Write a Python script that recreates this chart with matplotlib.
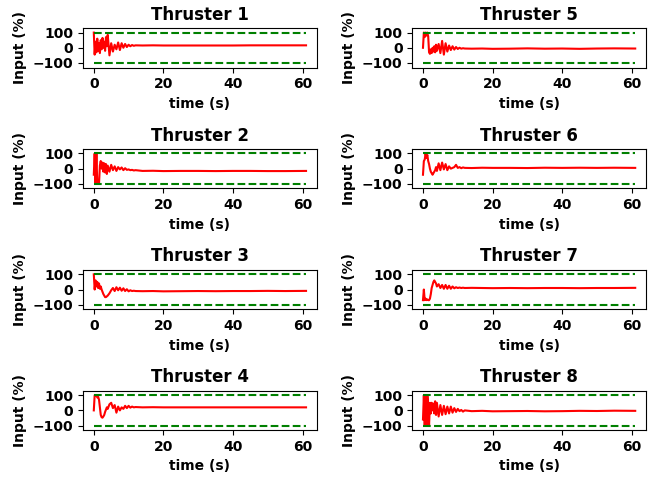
import matplotlib
matplotlib.use("Agg")
import matplotlib.pyplot as plt
import numpy as np

# sample times (s), dense where the thrusters are still oscillating
time = [0, 0.25, 0.5, 0.75, 1, 1.25, 1.5, 1.75, 2, 2.25, 2.5, 2.75, 3, 3.25, 3.5, 3.75, 4,
        4.5, 5, 5.5, 6, 6.5, 7, 7.5, 8, 8.5, 9, 9.5, 10, 10.5, 11, 11.5, 12,
        14, 17, 20, 25, 30, 35, 40, 45, 50, 55, 61]

thruster1 = [100, -45, 40, -30, 60, -20, 30, -35, 50, -10, 65, 0, 40, -20, 70, 10, 85,
             -50, 30, -25, 20, -10, 35, -15, 30, 0, 25, 5, 20, 10, 18, 13, 16,
             15, 16, 15, 15, 15, 15, 15, 16, 16, 16, 16]
thruster2 = [-40, 100, -100, 100, -100, -100, -100, 20, 50, 0, 40, -20, 35, -25, 30, -35, 20,
             -20, 25, -10, 15, -15, 10, -5, 8, -10, 3, -8, -5, -10, -8, -12, -10,
             -15, -14, -16, -15, -15, -16, -15, -15, -16, -16, -15]
thruster3 = [100, 0, 60, 20, 50, 10, 40, 5, 20, 0, -15, -30, -40, -50, -50, -45, -40,
             -25, -5, 10, -10, 15, -5, 12, -8, 8, -10, 2, -12, -5, -10, -8, -10,
             -11, -10, -12, -11, -10, -11, -10, -10, -9, -10, -9]
thruster4 = [0, 100, 95, 100, 85, 90, 70, 20, -30, -45, -48, -40, -30, -10, 5, 20, 10,
             40, 50, 15, 35, -15, 25, 0, 20, 10, 30, 15, 30, 18, 25, 20, 22,
             20, 21, 20, 20, 20, 20, 20, 20, 20, 20, 20]
thruster5 = [0, 100, 70, 100, 80, 100, 75, -30, -40, -10, -35, 0, -25, 10, -30, 20, -20,
             25, -35, 45, -45, 30, -25, 15, -15, 10, -12, 5, -8, 0, -6, -3, -5,
             -6, -5, -7, -6, -4, -6, -5, -7, -5, -4, -5]
thruster6 = [-40, 50, 60, 100, 70, 90, 50, 30, 0, -20, -30, -40, -30, -20, -10, 10, -15,
             35, -10, 40, -5, 30, -10, 15, 0, 5, 10, 25, 5, 10, 3, 8, 5,
             4, 6, 5, 5, 4, 6, 5, 6, 5, 6, 5]
thruster7 = [-70, 0, -70, -60, -70, -65, -70, -70, -60, -30, 10, 30, 50, 60, 50, 40, 20,
             35, 10, 30, 5, 30, 5, 25, 5, 20, 8, 15, 10, 13, 10, 12, 10,
             11, 10, 9, 10, 9, 10, 10, 9, 10, 10, 11]
thruster8 = [-60, 100, -100, 100, -100, 100, 40, -100, 50, -20, 50, 0, 45, -20, 60, -30, 50,
             -40, 35, -30, 30, -25, 25, -20, 25, -15, 15, -10, 10, -5, 3, -8, 0,
             -5, -3, -6, -5, -4, -6, -5, -3, -4, -2, -3]

inputs = [thruster1, thruster2, thruster3, thruster4,
          thruster5, thruster6, thruster7, thruster8]
upper_limit = 100
lower_limit = -100

plt.rcParams["font.weight"] = "bold"
plt.rcParams["axes.labelweight"] = "bold"
plt.rcParams["axes.titleweight"] = "bold"

fig = plt.figure(figsize=(6.55, 4.79), dpi=100)

t = np.array(time)
for i, u in enumerate(inputs):
    # thrusters 1-4 in the left column, 5-8 in the right column
    row, col = i % 4, i // 4
    ax = fig.add_subplot(4, 2, row * 2 + col + 1)
    ax.plot(t, u, color="red")
    ax.plot(t, np.full(len(t), upper_limit), "--", color="green")
    ax.plot(t, np.full(len(t), lower_limit), "--", color="green")
    ax.set_ylim(-130, 130)
    ax.set_title("Thruster %d" % (i + 1), fontsize=12)
    ax.set_xlabel("time (s)", fontsize=10)
    ax.set_ylabel("Input (%)", fontsize=10)
    ax.set_xticks([0, 20, 40, 60])
    ax.set_yticks([-100, 0, 100])
    ax.tick_params(labelsize=10)

fig.subplots_adjust(left=0.127, right=0.986, top=0.9415, bottom=0.102,
                    wspace=0.41, hspace=2.06)
fig.savefig("out.png", dpi=100)
